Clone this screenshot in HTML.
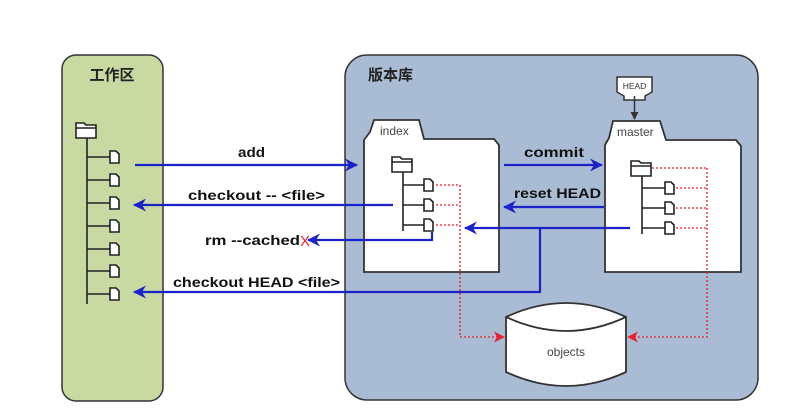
<!DOCTYPE html>
<html><head><meta charset="utf-8"><style>
html,body{margin:0;padding:0;background:#fff;}
svg{display:block;font-family:"Liberation Sans","Noto Sans CJK SC",sans-serif;}
</style></head><body>
<svg width="796" height="409" viewBox="0 0 796 409" xmlns="http://www.w3.org/2000/svg">
<defs>
<marker id="ab" markerWidth="13" markerHeight="13" refX="12" refY="6.5" orient="auto" markerUnits="userSpaceOnUse"><path d="M0,0 L13,6.5 L0,13 L4,6.5 Z" fill="#1a22c8"/></marker>
<marker id="ar" markerWidth="11" markerHeight="11" refX="10" refY="5.5" orient="auto" markerUnits="userSpaceOnUse"><path d="M0,0 L11,5.5 L0,11 L3,5.5 Z" fill="#e8202a"/></marker>
<marker id="ak" markerWidth="8" markerHeight="8" refX="7" refY="4" orient="auto" markerUnits="userSpaceOnUse"><path d="M0,0 L8,4 L0,8 Z" fill="#333"/></marker>
<g id="file"><path d="M0,0 h6 l3,3 v9 h-9 Z" fill="#fff" stroke="#222" stroke-width="1.6"/></g>
<g id="fold"><path d="M0,3 h8 l2,2 h10 v13 h-20 Z" fill="#fff" stroke="#222" stroke-width="1.6"/><path d="M0,8 h20" stroke="#222" stroke-width="1.4"/></g>
</defs>
<rect x="62" y="55" width="101" height="346" rx="14" fill="#c9d9a2" stroke="#333" stroke-width="1.5"/>
<text x="112" y="80" font-size="15" font-weight="bold" text-anchor="middle" fill="#222">工作区</text>
<use href="#fold" x="76" y="120"/>
<path d="M87,138 V304" stroke="#222" stroke-width="1.6"/>
<g stroke="#222" stroke-width="1.6">
<path d="M87,157H110M87,180H110M87,203H110M87,226H110M87,249H110M87,271H110M87,294H110"/>
</g>
<use href="#file" x="110" y="151"/><use href="#file" x="110" y="174"/><use href="#file" x="110" y="197"/><use href="#file" x="110" y="220"/><use href="#file" x="110" y="243"/><use href="#file" x="110" y="265"/><use href="#file" x="110" y="288"/>
<rect x="345" y="55" width="413" height="345" rx="22" fill="#a9bcd4" stroke="#333" stroke-width="1.5"/>
<text x="368" y="80" font-size="15" font-weight="bold" fill="#222">版本库</text>
<path d="M364,272 V140 L370,132 L374,120 H419 L424,139 H494 L499,145 V272 Z" fill="#fff" stroke="#333" stroke-width="1.8"/>
<text x="380" y="135" font-size="12" fill="#444">index</text>
<use href="#fold" x="392" y="154"/>
<path d="M403,172 V231 M403,185H424 M403,205H424 M403,225H424" stroke="#222" stroke-width="1.6"/>
<use href="#file" x="424" y="179"/><use href="#file" x="424" y="199"/><use href="#file" x="424" y="219"/>
<path d="M605,272 V145 L609,138 L613,121 H660 L666,140 H736 L741,146 V272 Z" fill="#fff" stroke="#333" stroke-width="1.8"/>
<text x="617" y="136" font-size="12" fill="#444">master</text>
<path d="M617,77 H652 V92 L645,96 V100 H624 V96 L617,92 Z" fill="#fff" stroke="#333" stroke-width="1.5"/>
<text x="634.5" y="89" font-size="8.5" text-anchor="middle" fill="#333">HEAD</text>
<path d="M634.5,96 V119" stroke="#333" stroke-width="1.5" marker-end="url(#ak)"/>
<use href="#fold" x="631" y="158"/>
<path d="M642,176 V234 M642,188H665 M642,208H665 M642,228H665" stroke="#222" stroke-width="1.6"/>
<use href="#file" x="665" y="182"/><use href="#file" x="665" y="202"/><use href="#file" x="665" y="222"/>
<path d="M506,317 Q566,289 626,317 V372 Q566,400 506,372 Z" fill="#fff" stroke="#333" stroke-width="1.8"/>
<path d="M506,317 Q566,345 626,317" fill="none" stroke="#333" stroke-width="1.8"/>
<text x="566" y="356" font-size="12" text-anchor="middle" fill="#444">objects</text>
<g fill="none" stroke="#e8202a" stroke-width="1.3" stroke-dasharray="2,2">
<path d="M436,185H460 M436,205H460 M436,225H460 M460,185V337H504" marker-end="url(#ar)"/>
<path d="M652,168H707 M676,188H707 M676,208H707 M676,228H707 M707,168V337H628" marker-end="url(#ar)"/>
</g>
<g fill="none" stroke="#1a22c8" stroke-width="2.2">
<path d="M135,165H357" marker-end="url(#ab)"/>
<path d="M393,205H134" marker-end="url(#ab)"/>
<path d="M432,232V240H308" marker-end="url(#ab)"/>
<path d="M630,228H465" marker-end="url(#ab)"/>
<path d="M540,228V292H134" marker-end="url(#ab)"/>
<path d="M504,165H602" marker-end="url(#ab)"/>
<path d="M604,207H504" marker-end="url(#ab)"/>
</g>
<g font-size="14" font-weight="bold" fill="#111">
<text x="238" y="157" textLength="27" lengthAdjust="spacingAndGlyphs">add</text>
<text x="188" y="200" textLength="137" lengthAdjust="spacingAndGlyphs">checkout -- &lt;file&gt;</text>
<text x="205" y="245" textLength="95" lengthAdjust="spacingAndGlyphs">rm --cached</text>
<text x="173" y="287" textLength="167" lengthAdjust="spacingAndGlyphs">checkout HEAD &lt;file&gt;</text>
<text x="524" y="157" textLength="60" lengthAdjust="spacingAndGlyphs">commit</text>
<text x="514" y="198" textLength="87" lengthAdjust="spacingAndGlyphs">reset HEAD</text>
</g>
<text x="300" y="246" font-size="15" fill="#e8202a">X</text>
</svg>
</body></html>
